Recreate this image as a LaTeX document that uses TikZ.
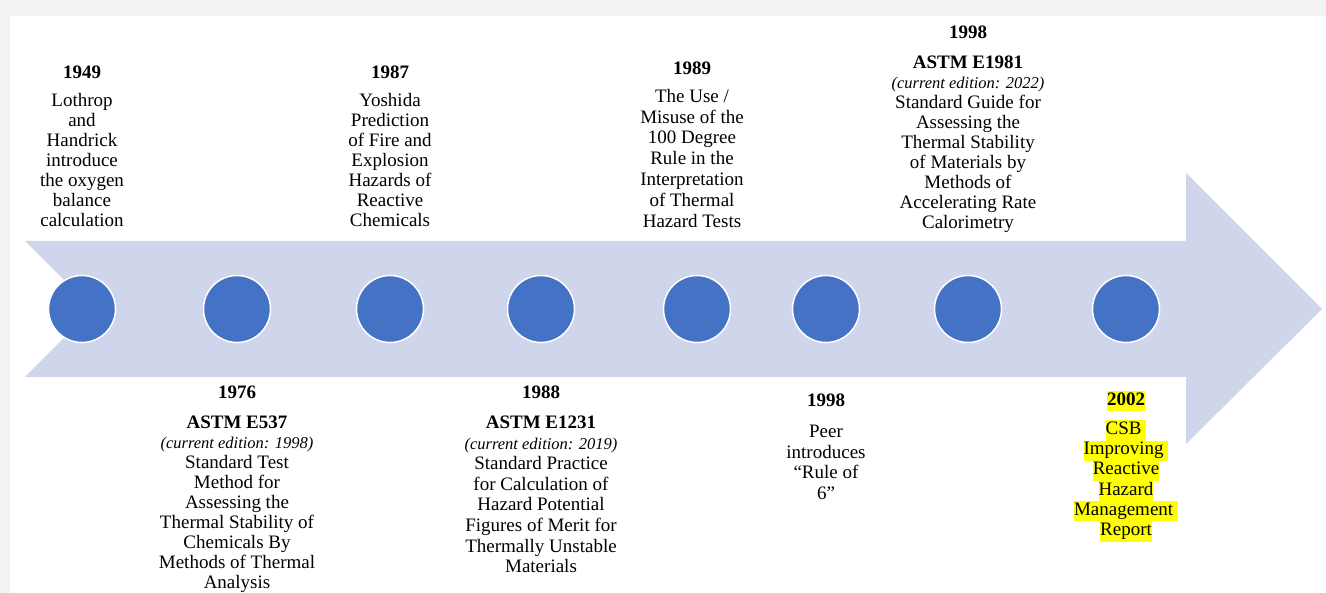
\documentclass[tikz,border=0pt]{standalone}
\usepackage{fontspec}
\setmainfont{Liberation Serif}
\usetikzlibrary{positioning}
\definecolor{arrowfill}{HTML}{CFD5EA}
\definecolor{dotblue}{HTML}{4472C4}
\definecolor{hlyellow}{HTML}{FFFF00}
\definecolor{pagegray}{HTML}{F3F3F3}
\newcommand{\hlite}[1]{{\setlength{\fboxsep}{0pt}\colorbox{hlyellow}{\strut #1}}}
\newcommand{\edition}[1]{{\fontsize{16.5}{20}\selectfont\itshape (current edition: #1)}}
\tikzset{
	event/.style={align=center, inner sep=0pt, anchor=north, font=\fontsize{19}{#1}\selectfont},
	event/.default=20,
	dot/.style={circle, fill=dotblue, draw=white, line width=1.5pt, minimum size=67pt, inner sep=0pt}
}
\begin{document}
\begin{tikzpicture}[x=1pt,y=-1pt]
	%\draw[very thin,color=gray] (0,0) grid[step=50] (1326,593);
	\fill[pagegray] (0,0) rectangle (1326,593);
	\fill[white] (10,16) rectangle (1326,593);
	\useasboundingbox (0,0) rectangle (1326,593);
	\fill[arrowfill] (25,241) -- (1186,241) -- (1186,173) -- (1322,309) -- (1186,444) -- (1186,377) -- (25,377) -- (93,309) -- cycle;
	\foreach \x [count=\i] in {82,237,390,541,697,826,968,1126}
		\node[dot] (c\i) at (\x,309) {};
	\node[event] (e1949) at (82,65.6) {\textbf{1949}\\[8pt] Lothrop\\and\\Handrick\\introduce\\the oxygen\\balance\\calculation};
	\node[event] (e1987) at (390,65.6) {\textbf{1987}\\[8pt] Yoshida\\Prediction\\of Fire and\\Explosion\\Hazards of\\Reactive\\Chemicals};
	\node[event=20.8] (e1989) at (692,61.6) {\textbf{1989}\\[7pt] The Use /\\Misuse of the\\100 Degree\\Rule in the\\Interpretation\\of Thermal\\Hazard Tests};
	\node[event] (e1998a) at (968,25.6) {\textbf{1998}\\[10pt] \textbf{ASTM E1981}\\\edition{2022}\\Standard Guide for\\Assessing the\\Thermal Stability\\of Materials by\\Methods of\\Accelerating Rate\\Calorimetry};
	\node[event] (e1976) at (237,385.6) {\textbf{1976}\\[10pt] \textbf{ASTM E537}\\\edition{1998}\\Standard Test\\Method for\\Assessing the\\Thermal Stability of\\Chemicals By\\Methods of Thermal\\Analysis};
	\node[event=20.6] (e1988) at (541,385.6) {\textbf{1988}\\[9.5pt] \textbf{ASTM E1231}\\\edition{2019}\\Standard Practice\\for Calculation of\\Hazard Potential\\Figures of Merit for\\Thermally Unstable\\Materials};
	\node[event=20.8] (e1998b) at (826,393.6) {\textbf{1998}\\[10pt] Peer\\introduces\\“Rule of\\6”};
	\node[event=20.2] (e2002) at (1126,391) {\hlite{\textbf{2002}}\\[9pt] \hlite{CSB }\\\hlite{Improving }\\\hlite{Reactive}\\\hlite{Hazard}\\\hlite{Management }\\\hlite{Report}};
\end{tikzpicture}
\end{document}
